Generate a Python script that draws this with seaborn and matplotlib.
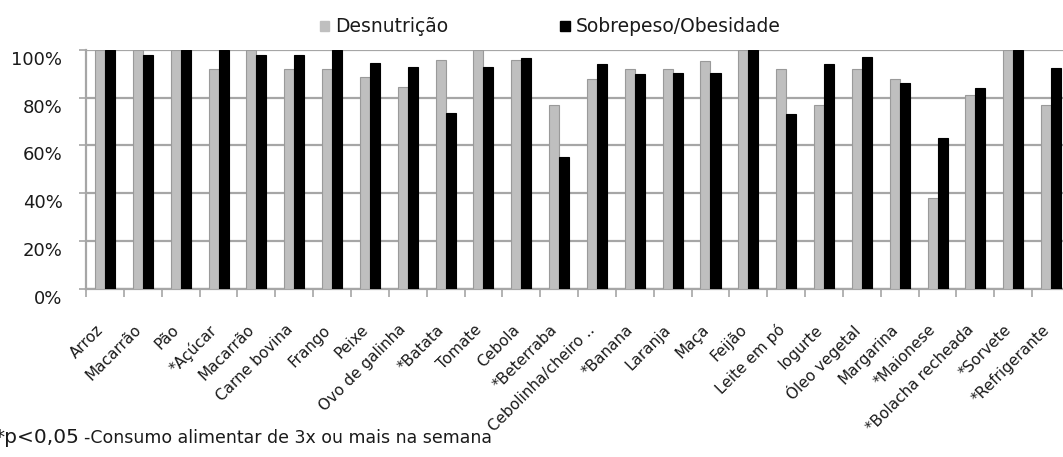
import numpy as np
import pandas as pd
import matplotlib
matplotlib.use("Agg")
import matplotlib.pyplot as plt
import seaborn as sns
from matplotlib.transforms import ScaledTranslation
from matplotlib.patches import Patch

categories = ["Arroz", "Macarrão", "Pão", "*Açúcar", "Macarrão", "Carne bovina", "Frango",
              "Peixe", "Ovo de galinha", "*Batata", "Tomate", "Cebola", "*Beterraba",
              "Cebolinha/cheiro ..", "*Banana", "Laranja", "Maça", "Feijão", "Leite em pó",
              "Iogurte", "Óleo vegetal", "Margarina", "*Maionese", "*Bolacha recheada",
              "*Sorvete", "*Refrigerante"]
desnutricao = [100, 100, 100, 92, 100, 92, 92, 88.5, 84.5, 96, 100, 96, 77,
               88, 92, 92, 95.5, 100, 92, 77, 92, 88, 38, 81, 100, 77]
sobrepeso = [100, 98, 100, 100, 98, 98, 100, 94.5, 93, 73.5, 93, 96.5, 55,
             94, 90, 90.5, 90.5, 100, 73, 94, 97, 86, 63, 84, 100, 92.5]
series_names = ["Desnutrição", "Sobrepeso/Obesidade"]
ytick_vals = [0, 0.2, 0.4, 0.6, 0.8, 1.0]
ytick_labels = ["0%", "20%", "40%", "60%", "80%", "100%"]
footnote_a = "*p<0,05"
footnote_b = "-Consumo alimentar de 3x ou mais na semana"

GRAY = "#bfbfbf"
BLACK = "#000000"
GRID = "#a6a6a6"
TXT = "#1a1a1a"

sns.set_style("white")
plt.rcParams["font.family"] = ["DejaVu Sans"]

n = len(categories)
df = pd.DataFrame({
    "idx": np.tile(np.arange(n), 2),
    "valor": np.array(desnutricao + sobrepeso) / 100.0,
    "grupo": [series_names[0]] * n + [series_names[1]] * n,
})

W, H = 1063, 457
fig = plt.figure(figsize=(W / 100, H / 100), dpi=100)
ax = fig.add_axes([86.1 / W, (H - 288.5) / H, (1070 - 86.1) / W, 238.5 / H])

sns.barplot(data=df, x="idx", y="valor", hue="grupo", hue_order=series_names,
            palette=[GRAY, BLACK], width=0.53, gap=0, saturation=1,
            legend=False, ax=ax, zorder=3)

for p in ax.patches:
    fc = p.get_facecolor()
    if fc[0] > 0.5:
        p.set_edgecolor("#9a9a9a")
        p.set_linewidth(0.8)
    else:
        p.set_edgecolor("#000000")
        p.set_linewidth(0.8)

ax.set_xlim(-0.5, n - 0.5)
ax.set_ylim(0, 1)
ax.set_xlabel("")
ax.set_ylabel("")

# y axis
ax.set_yticks(ytick_vals)
ax.set_yticklabels(ytick_labels, fontsize=13, color=TXT)
ax.tick_params(axis="y", length=5, width=1.2, color=GRID, pad=12, left=True)
ax.yaxis.grid(True, color=GRID, linewidth=1.6, zorder=0)
ax.set_axisbelow(True)
off = ScaledTranslation(0, -0.08, fig.dpi_scale_trans)
for lab in ax.get_yticklabels():
    lab.set_transform(lab.get_transform() + off)

# x axis
ax.set_xticks(np.arange(n))
ax.set_xticklabels(categories, rotation=45, ha="right", va="center",
                   rotation_mode="anchor", fontsize=11, color=TXT)
ax.tick_params(axis="x", which="major", length=0, pad=28)
ax.set_xticks(np.arange(n + 1) - 0.5, minor=True)
ax.tick_params(axis="x", which="minor", length=6, width=1.2, color=GRID, bottom=True)
offx = ScaledTranslation(-0.04, 0, fig.dpi_scale_trans)
for lab in ax.get_xticklabels():
    lab.set_transform(lab.get_transform() + offx)

for s in ["top", "right"]:
    ax.spines[s].set_visible(False)
for s in ["left", "bottom"]:
    ax.spines[s].set_color(GRID)
    ax.spines[s].set_linewidth(1.6)

handles = [Patch(facecolor=GRAY, edgecolor=GRAY), Patch(facecolor=BLACK, edgecolor=BLACK)]
fig.legend(handles=handles, labels=series_names, loc="center",
           bbox_to_anchor=(550 / W, 1 - 27 / H), ncol=2, frameon=False,
           fontsize=13.5, handlelength=0.5, handleheight=0.5, handletextpad=0.3,
           columnspacing=6, labelcolor=TXT)

fig.text(-6 / W, 1 - 443 / H, footnote_a, fontsize=14.5, va="baseline", color=TXT)
fig.text(84 / W, 1 - 443 / H, footnote_b, fontsize=12.5, va="baseline", color=TXT)

fig.savefig("out.png", dpi=100)
